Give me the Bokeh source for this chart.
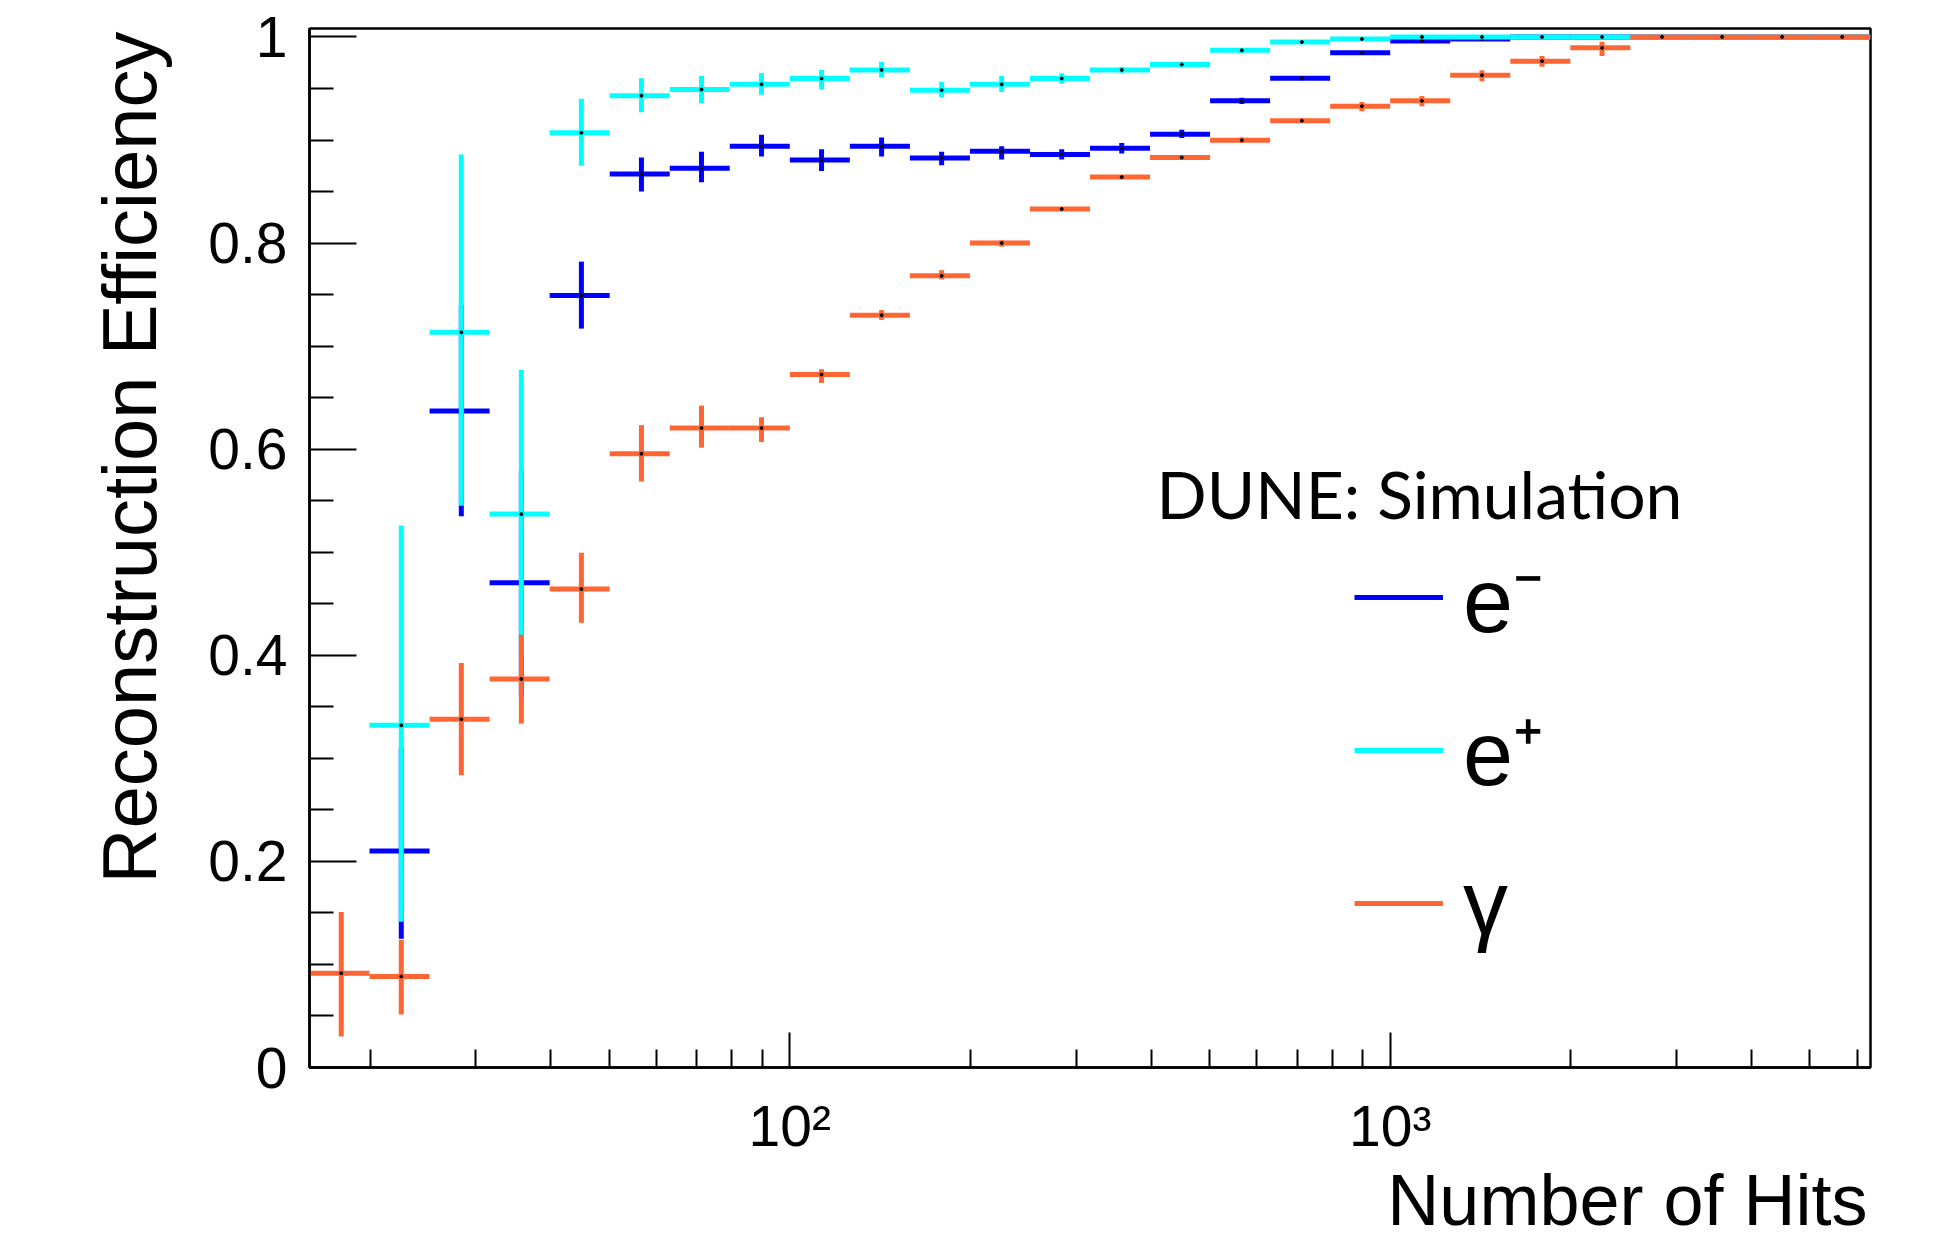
import math
from bokeh.plotting import figure
from bokeh.models import (ColumnDataSource, Range1d, FixedTicker, CustomJSTickFormatter,
                          Label, Legend, LegendItem, Title)
from bokeh.embed import file_html
from bokeh.resources import INLINE

# ---------------- data ----------------
bin_edges = [15.849, 19.953, 25.119, 31.623, 39.811, 50.119, 63.096, 79.433, 100.0,
             125.89, 158.49, 199.53, 251.19, 316.23, 398.11, 501.19, 630.96, 794.33,
             1000.0, 1258.9, 1584.9, 1995.3, 2511.9, 3162.3, 3981.1, 5011.9, 6309.6]

eff_electron = [None, 0.210, 0.637, 0.4705, 0.749, 0.867, 0.8725, 0.894, 0.8805, 0.894,
                0.8825, 0.889, 0.886, 0.892, 0.9057, 0.938, 0.960, 0.9846, 0.996, 0.998,
                1.0, 1.0, 1.0, 1.0, 1.0, 1.0]
lo_electron = [None, 0.125, 0.535, 0.36, 0.717, 0.850, 0.859, 0.884, 0.870, 0.884,
               0.8756, 0.881, 0.881, 0.887, 0.902, 0.935, 0.958, 0.983, 0.995, 0.997,
               0.999, 0.999, 0.999, 0.999, 0.999, 0.999]
hi_electron = [None, 0.31, 0.74, 0.58, 0.782, 0.883, 0.8885, 0.905, 0.891, 0.9025,
               0.8885, 0.894, 0.891, 0.897, 0.910, 0.941, 0.962, 0.986, 0.997, 0.999,
               1.0, 1.0, 1.0, 1.0, 1.0, 1.0]

eff_positron = [None, 0.332, 0.7134, 0.537, 0.907, 0.943, 0.949, 0.954, 0.9597, 0.968,
                0.9484, 0.954, 0.9597, 0.968, 0.9733, 0.987, 0.995, 0.998,
                1.0, 1.0, 1.0, 1.0, 1.0, 1.0, 1.0, 1.0]
lo_positron = [None, 0.1415, 0.545, 0.40, 0.875, 0.927, 0.936, 0.944, 0.949, 0.9607,
               0.9413, 0.9467, 0.9547, 0.965, 0.970, 0.985, 0.994, 0.997,
               0.999, 0.999, 0.999, 0.999, 0.999, 0.999, 0.999, 0.999]
hi_positron = [None, 0.526, 0.886, 0.677, 0.940, 0.960, 0.962, 0.965, 0.968, 0.976,
               0.9565, 0.962, 0.9647, 0.971, 0.976, 0.989, 0.996, 0.999,
               1.0, 1.0, 1.0, 1.0, 1.0, 1.0, 1.0, 1.0]

eff_photon = [0.0915, 0.0884, 0.338, 0.377, 0.4642, 0.5955, 0.6205, 0.6205, 0.6725, 0.730,
              0.7682, 0.800, 0.833, 0.864, 0.883, 0.8998, 0.9186, 0.9328, 0.938, 0.9629,
              0.9765, 0.9894, 1.0, 1.0, 1.0, 1.0]
lo_photon = [0.030, 0.0515, 0.2836, 0.3337, 0.4315, 0.5686, 0.6015, 0.607, 0.6643, 0.7254,
             0.7647, 0.7963, 0.831, 0.862, 0.881, 0.897, 0.9165, 0.928, 0.9328, 0.9571,
             0.971, 0.9816, 0.999, 0.999, 0.999, 0.999]
hi_photon = [0.151, 0.124, 0.3925, 0.420, 0.4995, 0.6233, 0.6423, 0.631, 0.6776, 0.735,
             0.7737, 0.8027, 0.835, 0.866, 0.885, 0.9025, 0.921, 0.937, 0.9428, 0.9678,
             0.9816, 0.9953, 1.0, 1.0, 1.0, 1.0]

series_labels = ["e\u207b", "e\u207a", "\u03b3"]
series_colors = ["#0000FF", "#00FFFF", "#FF6633"]

x_major_ticks = [100, 1000]
x_minor_ticks = [20, 30, 40, 50, 60, 70, 80, 90, 200, 300, 400, 500, 600, 700, 800, 900,
                 2000, 3000, 4000, 5000, 6000]
y_major_ticks = [0.0, 0.2, 0.4, 0.6, 0.8, 1.0]
y_minor_ticks = [0.05, 0.1, 0.15, 0.25, 0.3, 0.35, 0.45, 0.5, 0.55, 0.65, 0.7, 0.75,
                 0.85, 0.9, 0.95]

x_title = "Number of Hits"
y_title = "Reconstruction Efficiency"
tag_text = "DUNE: Simulation"

# ---------------- figure ----------------
Y_MAX = 1.0082
FRAME_W, FRAME_H = 1561, 1039
p = figure(width=1930, height=1242, x_axis_type="log",
           x_range=Range1d(bin_edges[0], bin_edges[-1]), y_range=Range1d(0, Y_MAX),
           output_backend="svg", toolbar_location=None,
           min_border_left=309, min_border_right=60, min_border_top=28, min_border_bottom=175)
p.background_fill_color = "white"
p.border_fill_color = "white"
p.xgrid.visible = False
p.ygrid.visible = False
p.outline_line_color = "black"
p.outline_line_width = 2.5

xa = p.xaxis[0]
ya = p.yaxis[0]
xa.ticker = FixedTicker(ticks=x_major_ticks, minor_ticks=x_minor_ticks)
ya.ticker = FixedTicker(ticks=y_major_ticks, minor_ticks=y_minor_ticks)
xa.formatter = CustomJSTickFormatter(code="""
const e = Math.round(Math.log10(tick));
const sup = {2: '\u00b2', 3: '\u00b3', 4: '\u2074'};
return '10' + (sup[e] || '');
""")
ya.formatter = CustomJSTickFormatter(code="return (Math.round(tick*10)/10).toString();")
for ax in (xa, ya):
    ax.axis_line_color = "black"
    ax.axis_line_width = 2.5
    ax.major_tick_line_color = "black"
    ax.minor_tick_line_color = "black"
    ax.major_tick_line_width = 2
    ax.minor_tick_line_width = 2
    ax.major_tick_out = 0
    ax.minor_tick_out = 0
    ax.major_label_text_font = "Liberation Sans"
    ax.major_label_text_font_size = "57px"
    ax.major_label_text_color = "black"
xa.major_tick_in = 35
xa.minor_tick_in = 18
xa.major_label_standoff = 26
ya.major_tick_in = 47
ya.minor_tick_in = 24
ya.major_label_standoff = 22

# ---------------- data marks ----------------
def build(eff, lo, hi):
    d = dict(xl=[], xh=[], xc=[], v=[], lo=[], hi=[])
    for k, val in enumerate(eff):
        if val is None:
            continue
        a, b = bin_edges[k], bin_edges[k + 1]
        d["xl"].append(a)
        d["xh"].append(b)
        d["xc"].append(0.5 * (a + b))
        d["v"].append(val)
        d["lo"].append(lo[k])
        d["hi"].append(hi[k])
    return ColumnDataSource(d)

all_series = [(eff_electron, lo_electron, hi_electron),
              (eff_positron, lo_positron, hi_positron),
              (eff_photon, lo_photon, hi_photon)]

legend_renderers = []
for (eff, lo, hi), color in zip(all_series, series_colors):
    src = build(eff, lo, hi)
    r = p.segment(x0="xl", y0="v", x1="xh", y1="v", source=src,
                  line_color=color, line_width=5, line_cap="butt")
    p.segment(x0="xc", y0="lo", x1="xc", y1="hi", source=src,
              line_color=color, line_width=5, line_cap="butt")
    p.scatter(x="xc", y="v", source=src, marker="circle", size=3,
              fill_color="black", line_color="black")
    legend_renderers.append(r)

# ---------------- legend ----------------
legend = Legend(items=[LegendItem(label=lab, renderers=[r])
                       for lab, r in zip(series_labels, legend_renderers)],
                location=(1045, 94), orientation="vertical",
                glyph_width=89, glyph_height=140, label_height=140, spacing=13,
                label_standoff=20, padding=0, margin=0,
                border_line_alpha=0, background_fill_alpha=0,
                label_text_font="Liberation Sans", label_text_font_size="90px",
                label_text_color="black")
p.add_layout(legend)

# ---------------- titles ----------------
p.add_layout(Title(text=y_title, align="right", vertical_align="bottom",
                   standoff=68, offset=3, text_font="Liberation Sans",
                   text_font_size="76px", text_font_style="normal",
                   text_color="black"), "left")
p.add_layout(Title(text=x_title, align="right", vertical_align="top",
                   standoff=-1, offset=3, text_font="Liberation Sans",
                   text_font_size="72px", text_font_style="normal",
                   text_color="black"), "below")

DEC = FRAME_W / 2.6       # px per decade in the frame


def x_at(px_from_left):
    return 10 ** (math.log10(bin_edges[0]) + px_from_left / DEC)


p.add_layout(Label(x=x_at(847), y=0.5565, text=tag_text,
                   text_align="left", text_baseline="alphabetic",
                   text_font="Lato", text_font_size="66px", text_color="black"))

open("out.html", "w").write(file_html(p, INLINE))
